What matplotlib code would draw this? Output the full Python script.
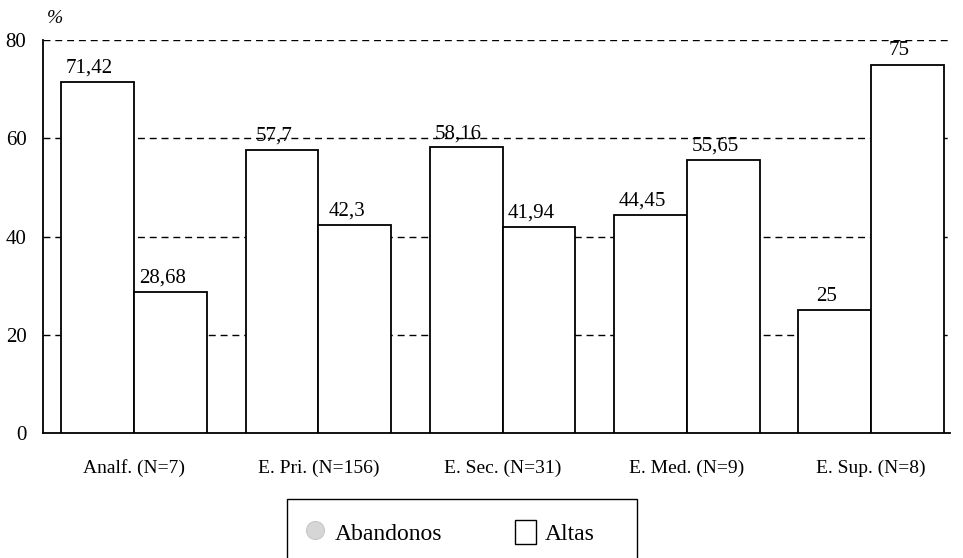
import matplotlib; matplotlib.use("Agg")
import matplotlib.pyplot as plt
import numpy as np
from matplotlib.patches import Patch, Rectangle
from matplotlib.lines import Line2D

plt.rcParams.update({"font.family": "Liberation Serif", "font.size": 14})

categorias = ["Analf. (N=7)", "E. Pri. (N=156)", "E. Sec. (N=31)", "E. Med. (N=9)", "E. Sup. (N=8)"]
abandonos = [71.42, 57.7, 58.16, 44.45, 25]
altas = [28.68, 42.3, 41.94, 55.65, 75]
etiq_aband = ["71,42", "57,7", "58,16", "44,45", "25"]
etiq_altas = ["28,68", "42,3", "41,94", "55,65", "75"]

fig = plt.figure(figsize=(9.63, 5.58), dpi=100)
ax = fig.add_axes([0.0447, 0.224, 0.942, 0.704])
x = np.arange(len(categorias)); w = 0.395

b1 = ax.bar(x - w/2, abandonos, w, color="white", edgecolor="black", lw=1.3, zorder=3)
b2 = ax.bar(x + w/2, altas, w, color="white", edgecolor="black", lw=1.3, zorder=3)
# etiquetas algo desplazadas a la izquierda, como en el original
for barras, etiq in [(b1, etiq_aband), (b2, etiq_altas)]:
    for r, t in zip(barras, etiq):
        ax.text(r.get_x() + r.get_width()/2 - 0.045, r.get_height() + 1.9, t,
                ha="center", va="baseline", fontsize=15, zorder=4)

ax.set_xlim(-0.495, 4.43); ax.set_ylim(0, 80)
ax.set_yticks([0, 20, 40, 60, 80])
ax.set_xticks(x); ax.set_xticklabels(categorias)
ax.tick_params(length=0, labelsize=14)
ax.tick_params(axis="y", labelsize=15, pad=12)
ax.tick_params(axis="x", pad=19)
for v in [20, 40, 60, 80]:
    ax.axhline(v, color="black", lw=1.0, ls=(0, (5, 3.5)), zorder=1)
for s in ["top", "right"]:
    ax.spines[s].set_visible(False)
ax.spines["left"].set_linewidth(1.3); ax.spines["bottom"].set_linewidth(1.3)
fig.text(0.057, 0.966, "%", fontsize=14, style="italic", ha="center", va="center")

# leyenda: caja dibujada aparte (se corta por abajo como en el original)
fig.add_artist(Rectangle((0.298, -0.05), 0.363, 0.155, transform=fig.transFigure,
                         facecolor="none", edgecolor="black", lw=1.0))
handles = [Line2D([], [], ls="none", marker="o", ms=13, mfc="#d6d6d6", mec="#c8c8c8", mew=0.8),
           Patch(facecolor="white", edgecolor="black")]
fig.legend(handles, ["Abandonos", "Altas"], loc="center left", bbox_to_anchor=(0.317, 0.046),
           ncol=2, frameon=False, fontsize=17, handlelength=0.85, handleheight=1.2,
           columnspacing=3.1, borderpad=0, handletextpad=0.4, borderaxespad=0)

fig.savefig("out.png", dpi=100)
